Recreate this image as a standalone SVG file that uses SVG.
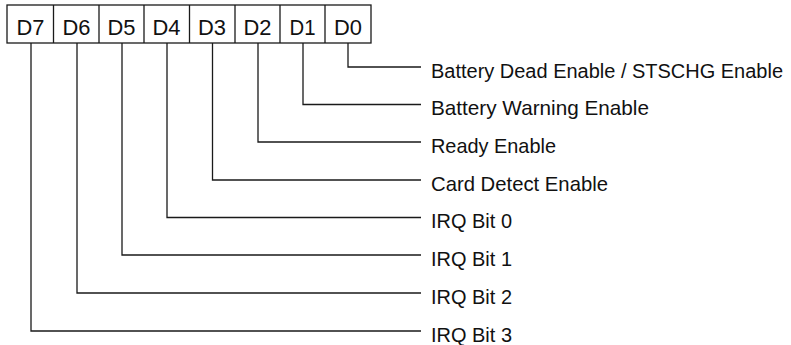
<svg xmlns="http://www.w3.org/2000/svg" width="791" height="345" viewBox="0 0 791 345">
<style>
.bx{fill:#fff;stroke:#1a1a1a;stroke-width:1.3}
.bl{font-family:"Liberation Sans",Arial,sans-serif;font-size:22px;fill:#111;text-anchor:middle}
.lb{font-family:"Liberation Sans",Arial,sans-serif;font-size:21px;fill:#111}
.cn{fill:none;stroke:#1a1a1a;stroke-width:1.3}
</style>
<rect width="791" height="345" fill="#fff"/>
<g id="register">
<rect class="bx" x="7" y="5" width="364" height="38"/>
<line class="cn" x1="53.5" y1="5" x2="53.5" y2="43"/>
<line class="cn" x1="99" y1="5" x2="99" y2="43"/>
<line class="cn" x1="144" y1="5" x2="144" y2="43"/>
<line class="cn" x1="189.5" y1="5" x2="189.5" y2="43"/>
<line class="cn" x1="235" y1="5" x2="235" y2="43"/>
<line class="cn" x1="280" y1="5" x2="280" y2="43"/>
<line class="cn" x1="325" y1="5" x2="325" y2="43"/>
<g id="d7"><text class="bl" x="30.5" y="35" textLength="28" lengthAdjust="spacingAndGlyphs">D7</text></g>
<g id="d6"><text class="bl" x="76.5" y="35" textLength="28" lengthAdjust="spacingAndGlyphs">D6</text></g>
<g id="d5"><text class="bl" x="121.5" y="35" textLength="28" lengthAdjust="spacingAndGlyphs">D5</text></g>
<g id="d4"><text class="bl" x="166.5" y="35" textLength="28" lengthAdjust="spacingAndGlyphs">D4</text></g>
<g id="d3"><text class="bl" x="212" y="35" textLength="28" lengthAdjust="spacingAndGlyphs">D3</text></g>
<g id="d2"><text class="bl" x="257.5" y="35" textLength="28" lengthAdjust="spacingAndGlyphs">D2</text></g>
<g id="d1"><text class="bl" x="302.5" y="35" textLength="26" lengthAdjust="spacingAndGlyphs">D1</text></g>
<g id="d0"><text class="bl" x="348" y="35" textLength="28" lengthAdjust="spacingAndGlyphs">D0</text></g>
</g>
<g id="connectors">
<polyline class="cn" points="348,43 348,67 421,67"/>
<polyline class="cn" points="303,43 303,104.5 421,104.5"/>
<polyline class="cn" points="258,43 258,142 421,142"/>
<polyline class="cn" points="212.5,43 212.5,180 421,180"/>
<polyline class="cn" points="167,43 167,217.5 421,217.5"/>
<polyline class="cn" points="122,43 122,255 421,255"/>
<polyline class="cn" points="77,43 77,293 421,293"/>
<polyline class="cn" points="31,43 31,331 421,331"/>
</g>
<g id="label-d0"><text class="lb" x="431" y="77.5" style="font-size:20px" textLength="352" lengthAdjust="spacingAndGlyphs">Battery Dead Enable / STSCHG Enable</text></g>
<g id="label-d1"><text class="lb" x="431" y="115" textLength="218" lengthAdjust="spacingAndGlyphs">Battery Warning Enable</text></g>
<g id="label-d2"><text class="lb" x="431" y="152.5" textLength="125" lengthAdjust="spacingAndGlyphs">Ready Enable</text></g>
<g id="label-d3"><text class="lb" x="431" y="190.5" textLength="177" lengthAdjust="spacingAndGlyphs">Card Detect Enable</text></g>
<g id="label-d4"><text class="lb" x="431" y="228" textLength="81" lengthAdjust="spacingAndGlyphs">IRQ Bit 0</text></g>
<g id="label-d5"><text class="lb" x="431" y="265.5" textLength="81" lengthAdjust="spacingAndGlyphs">IRQ Bit 1</text></g>
<g id="label-d6"><text class="lb" x="431" y="303.5" textLength="81" lengthAdjust="spacingAndGlyphs">IRQ Bit 2</text></g>
<g id="label-d7"><text class="lb" x="431" y="341.5" textLength="81" lengthAdjust="spacingAndGlyphs">IRQ Bit 3</text></g>
</svg>
